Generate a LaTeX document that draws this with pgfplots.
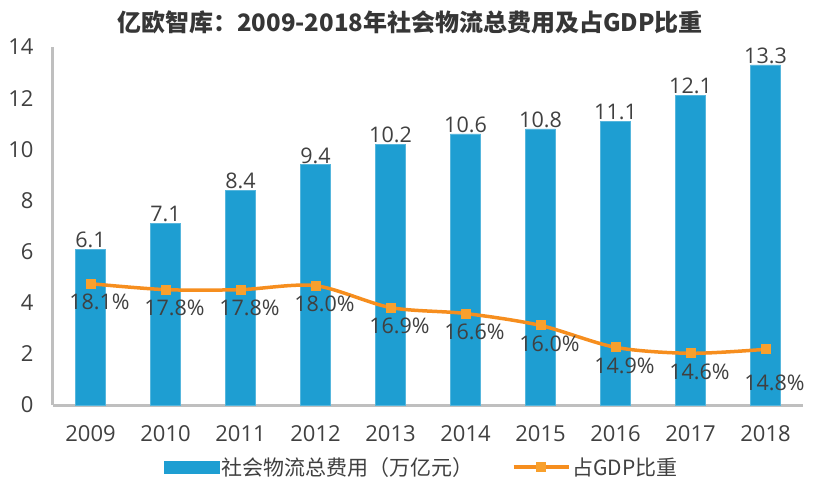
\documentclass[border=0pt]{standalone}
\usepackage{pgfplots}
\pgfplotsset{compat=1.18}
\usepackage{pgfplotstable}
\usepackage{fontspec}
\setmainfont{Open Sans}
\newfontfamily\cjk{Noto Sans CJK SC}
\definecolor{barblue}{RGB}{30,158,210}
\definecolor{lineorange}{RGB}{246,142,30}
\definecolor{mkorange}{RGB}{248,160,45}
\definecolor{axgrey}{RGB}{191,191,191}
\definecolor{txt}{RGB}{64,64,64}

\pgfplotstableread{
x cost pct
0 6.1 18.1
1 7.1 17.8
2 8.4 17.8
3 9.4 18.0
4 10.2 16.9
5 10.6 16.6
6 10.8 16.0
7 11.1 14.9
8 12.1 14.6
9 13.3 14.8
}\data

\begin{document}
\begin{tikzpicture}
\useasboundingbox (0,0) rectangle (814pt,-486pt);
\node[font=\cjk\bfseries\fontsize{24}{28}\selectfont, text=txt!85!black] at (410pt,-22pt) {亿欧智库：2009-2018年社会物流总费用及占GDP比重};
\begin{axis}[
  at={(53pt,-405pt)}, anchor=south west, scale only axis,
  width=750pt, height=358pt,
  xmin=-0.5, xmax=9.5, ymin=0, ymax=14,
  ytick={0,2,...,14},
  xtick={0,...,9},
  xticklabels={2009,2010,2011,2012,2013,2014,2015,2016,2017,2018},
  axis x line*=bottom, axis y line*=left,
  axis line style={axgrey, line width=3pt, -},
  major tick length=0pt, tick style={draw=none},
  ticklabel style={font=\fontsize{22}{26}\selectfont, text=txt},
  /pgf/number format/assume math mode=true,
  yticklabel style={xshift=-16pt},
  xticklabel style={yshift=-17pt},
  clip=false,
  legend style={at={(0.492,-0.173)}, anchor=center, draw=none, fill=none,
    legend columns=2, font=\cjk\fontsize{21}{24}\selectfont, text=txt,
    /tikz/every even column/.append style={column sep=36pt},
    inner sep=0pt},
]
\addplot[ybar, bar width=30pt, fill=barblue, draw=barblue!75!white, line width=0.6pt,
  nodes near coords={\pgfmathprintnumber[fixed,fixed zerofill,precision=1]{\pgfplotspointmeta}},
  point meta=y,
  nodes near coords style={font=\fontsize{21.5}{25}\selectfont, text=txt, anchor=south, inner sep=1pt, /pgf/number format/assume math mode=true},
  legend image code/.code={\fill[barblue] (0pt,-6pt) rectangle (55pt,6pt);}
] table[x=x,y=cost]{\data};
\addlegendentry{社会物流总费用（万亿元）}
\addlegendimage{legend image code/.code={
  \draw[lineorange, line width=3.5pt] (0pt,0pt) -- (55pt,0pt);
  \fill[mkorange] (23pt,-4.5pt) rectangle (32pt,4.5pt);}}
\addlegendentry{占GDP比重}
\end{axis}
\begin{axis}[
  at={(53pt,-405pt)}, anchor=south west, scale only axis,
  width=750pt, height=358pt,
  xmin=-0.5, xmax=9.5, ymin=12, ymax=30,
  hide axis, clip=false,
  lbl/.style={draw=none, mark=none,
    nodes near coords={\pgfmathprintnumber[fixed,fixed zerofill,precision=1]{\pgfplotspointmeta}\%},
    point meta=y,
    nodes near coords style={font=\fontsize{21.5}{25}\selectfont, text=txt, anchor=north,
      inner sep=0pt, xshift=9pt, /pgf/number format/assume math mode=true}},
]
\addplot[smooth, lineorange, line width=3.5pt, mark=square*, mark size=4.5pt,
  mark options={fill=mkorange, draw=mkorange, line width=0pt}]
  table[x=x,y=pct]{\data};
\addplot[lbl, skip coords between index={9}{10}, nodes near coords style={yshift=-10pt}]
  table[x=x,y=pct]{\data};
\addplot[lbl, skip coords between index={0}{9}, nodes near coords style={yshift=-25pt}]
  table[x=x,y=pct]{\data};
\end{axis}
\end{tikzpicture}
\end{document}
